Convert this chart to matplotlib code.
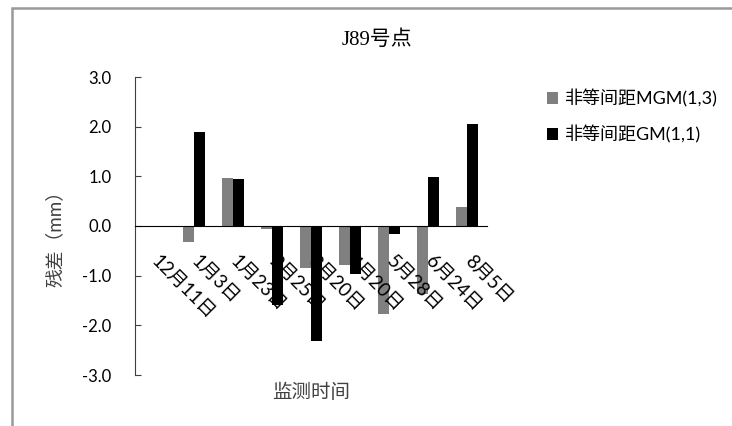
import numpy as np
import matplotlib
matplotlib.use("Agg")
import matplotlib.pyplot as plt
from matplotlib.patches import Rectangle

# 监测日期与两种模型的残差 (mm)
dates = ["12月11日", "1月3日", "1月23日", "2月25日", "3月20日",
         "4月20日", "5月28日", "6月24日", "8月5日"]
mgm_resid = [0.0, -0.33, 0.97, -0.06, -0.85, -0.79, -1.77, -1.37, 0.39]
gm_resid = [0.0, 1.89, 0.94, -1.59, -2.32, -0.96, -0.16, 0.98, 2.06]

cjk = ["Lato", "Noto Sans CJK SC"]

fig = plt.figure(figsize=(7.32, 4.26), dpi=100)
W, H = 732, 426

# 图表区外框
fig.patches.append(Rectangle((11.5 / W, -0.1), 1.2, (H - 7.5) / H + 0.1,
                             transform=fig.transFigure, fill=False,
                             edgecolor="#999999", linewidth=1.8))

ax = fig.add_axes([135 / W, (H - 375) / H, (487 - 135) / W, (375 - 77) / H])

x = np.arange(len(dates))
w = 0.28
ax.bar(x - w / 2, mgm_resid, w, color="#808080", label="非等间距MGM(1,3)")
ax.bar(x + w / 2, gm_resid, w, color="#000000", label="非等间距GM(1,1)")

ax.set_xlim(-0.5, len(dates) - 0.5)
ax.set_ylim(-3, 3)
ax.set_yticks(np.arange(-3, 3.1, 1))
ax.set_yticklabels([f"{v:.1f}" for v in np.arange(-3, 3.1, 1)],
                   fontfamily=cjk, fontsize=12)

ax.spines["top"].set_visible(False)
ax.spines["right"].set_visible(False)
ax.spines["left"].set_color("#404040")
ax.spines["bottom"].set_position(("data", 0))
ax.spines["bottom"].set_color("black")
ax.tick_params(axis="y", direction="in", length=4, color="#404040", pad=17)
ax.tick_params(axis="x", length=0, pad=23)

ax.set_xticks(x)
ax.set_xticklabels(dates, rotation=-45, ha="left", va="center",
                   rotation_mode="anchor", fontfamily=cjk, fontsize=13.5)

fig.text(377 / W, 1 - 40 / H, "J89号点", ha="center", va="center",
         fontfamily=["Liberation Serif", "Noto Sans CJK SC"], fontsize=15)
fig.text(311 / W, 1 - 392 / H, "监测时间", ha="center", va="center",
         fontfamily=cjk, fontsize=14, color="#404040")
fig.text(55 / W, 1 - 234 / H, "残差（mm）", ha="center", va="center",
         rotation=90, fontfamily=cjk, fontsize=13.5, color="#404040")

fig.legend(loc="upper left", bbox_to_anchor=(538 / W, 1 - 80 / H),
           frameon=False, prop={"family": cjk, "size": 13},
           handlelength=0.62, handleheight=0.62, handletextpad=0.35,
           labelspacing=1.0, borderpad=0)

fig.savefig("out.png", dpi=100)
